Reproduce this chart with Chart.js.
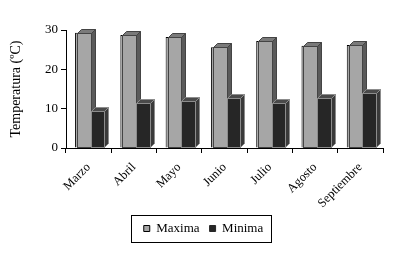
<!DOCTYPE html>
<html>
<head>
<meta charset="utf-8">
<script src="https://cdn.jsdelivr.net/npm/chart.js@4.4.1/dist/chart.umd.min.js"></script>
<style>
  html, body { margin: 0; padding: 0; background: #fff; }
  #wrap { width: 420px; height: 255px; }
</style>
</head>
<body>
<div id="wrap"><canvas id="c" width="420" height="255"></canvas></div>
<script>
  // meses y temperaturas
  var meses = ['Marzo', 'Abril', 'Mayo', 'Junio', 'Julio', 'Agosto', 'Septiembre'];
  var maxima = [29.3, 28.7, 28.2, 25.6, 27.2, 26.0, 26.2];
  var minima = [9.4, 11.4, 12.0, 12.6, 11.4, 12.6, 13.9];
  var yTicks = [0, 10, 20, 30];

  var SERIF = '"Liberation Serif", "DejaVu Serif", serif';
  var LEGEND_PAD = 10;

  // caras 3D: frente, tapa y lateral de cada barra
  var bars3d = {
    id: 'bars3d',
    afterDatasetsDraw: function(chart) {
      var ctx = chart.ctx;
      var dx = 4, dy = 4, shift = 2;
      var styles = [
        { front: '#a6a6a6', top: '#7a7a7a', side: '#5a5a5a', line: '#444' },
        { front: '#262626', top: '#4a4a4a', side: '#3a3a3a', line: '#8c8c8c' }
      ];
      ctx.save();
      ctx.lineWidth = 1;
      for (var i = 0; i < meses.length; i++) {
        for (var d = 0; d < chart.data.datasets.length; d++) {
          var el = chart.getDatasetMeta(d).data[i];
          var s = styles[d];
          var l = Math.round(el.x - el.width / 2) + shift + 0.5;
          var r = Math.round(el.x + el.width / 2) + shift + 0.5;
          var t = Math.round(el.y) + 0.5;
          var b = Math.round(el.base) - 0.5;
          ctx.strokeStyle = s.line;
          // frente
          ctx.fillStyle = s.front;
          ctx.fillRect(l, t, r - l, b - t);
          ctx.strokeRect(l, t, r - l, b - t);
          // tapa
          ctx.beginPath();
          ctx.moveTo(l, t); ctx.lineTo(l + dx, t - dy); ctx.lineTo(r + dx, t - dy); ctx.lineTo(r, t);
          ctx.closePath();
          ctx.fillStyle = s.top; ctx.fill(); ctx.stroke();
          // lateral
          ctx.beginPath();
          ctx.moveTo(r, t); ctx.lineTo(r + dx, t - dy); ctx.lineTo(r + dx, b - dy); ctx.lineTo(r, b);
          ctx.closePath();
          ctx.fillStyle = s.side; ctx.fill(); ctx.stroke();
        }
      }
      ctx.restore();
    }
  };

  // leyenda algo desplazada a la derecha y con marco
  var legendBox = {
    id: 'legendBox',
    afterUpdate: function(chart) {
      var lg = chart.legend;
      if (!lg) return;
      lg.left += 8;
      lg.right += 8;
    },
    afterDraw: function(chart) {
      var lg = chart.legend;
      if (!lg || !lg.lineWidths || !lg.legendHitBoxes.length) return;
      var w = lg.lineWidths[0];
      var x0 = (lg.left + LEGEND_PAD + lg.right - w) / 2;
      var x1 = x0 + w - LEGEND_PAD;
      var y0 = lg.top + LEGEND_PAD;
      var h = lg.legendHitBoxes[0].height;
      var ctx = chart.ctx;
      ctx.save();
      ctx.strokeStyle = '#000';
      ctx.lineWidth = 1;
      ctx.strokeRect(Math.round(x0 - 13) + 0.5, Math.round(y0 - 7) + 0.5, Math.round(x1 - x0 + 21), Math.round(h + 14));
      ctx.restore();
    }
  };

  new Chart(document.getElementById('c'), {
    type: 'bar',
    data: {
      labels: meses,
      datasets: [
        { label: 'Maxima', data: maxima, backgroundColor: '#a6a6a6', borderColor: '#000', borderWidth: 1 },
        { label: 'Minima', data: minima, backgroundColor: '#262626', borderColor: '#262626', borderWidth: 1 }
      ]
    },
    options: {
      responsive: false,
      animation: false,
      devicePixelRatio: 1,
      layout: { padding: { left: 8, right: 37, top: 30, bottom: 10 } },
      datasets: { bar: { categoryPercentage: 0.6, barPercentage: 1.0 } },
      plugins: {
        tooltip: { enabled: false },
        legend: {
          position: 'bottom',
          labels: {
            color: '#000',
            font: { family: SERIF, size: 13 },
            boxWidth: 6, boxHeight: 6,
            padding: LEGEND_PAD
          }
        }
      },
      scales: {
        x: {
          afterFit: function(scale) { scale.height = 64; },
          grid: { display: true, drawOnChartArea: false, color: '#000', tickLength: 5, offset: true },
          border: { color: '#000', width: 1 },
          ticks: {
            color: '#000', font: { family: SERIF, size: 12.5 },
            minRotation: 45, maxRotation: 45, padding: 7
          }
        },
        y: {
          min: 0, max: 30,
          afterFit: function(scale) { scale.width = 58; },
          afterBuildTicks: function(scale) {
            scale.ticks = yTicks.map(function(v) { return { value: v }; });
          },
          grid: { display: true, drawOnChartArea: false, color: '#000', tickLength: 5 },
          border: { color: '#000', width: 1 },
          ticks: { color: '#000', font: { family: SERIF, size: 13 }, padding: 3 },
          title: {
            display: true, text: 'Temperatura (ºC)', color: '#000',
            font: { family: SERIF, size: 14 }, padding: 0
          }
        }
      }
    },
    plugins: [bars3d, legendBox]
  });
</script>
</body>
</html>
